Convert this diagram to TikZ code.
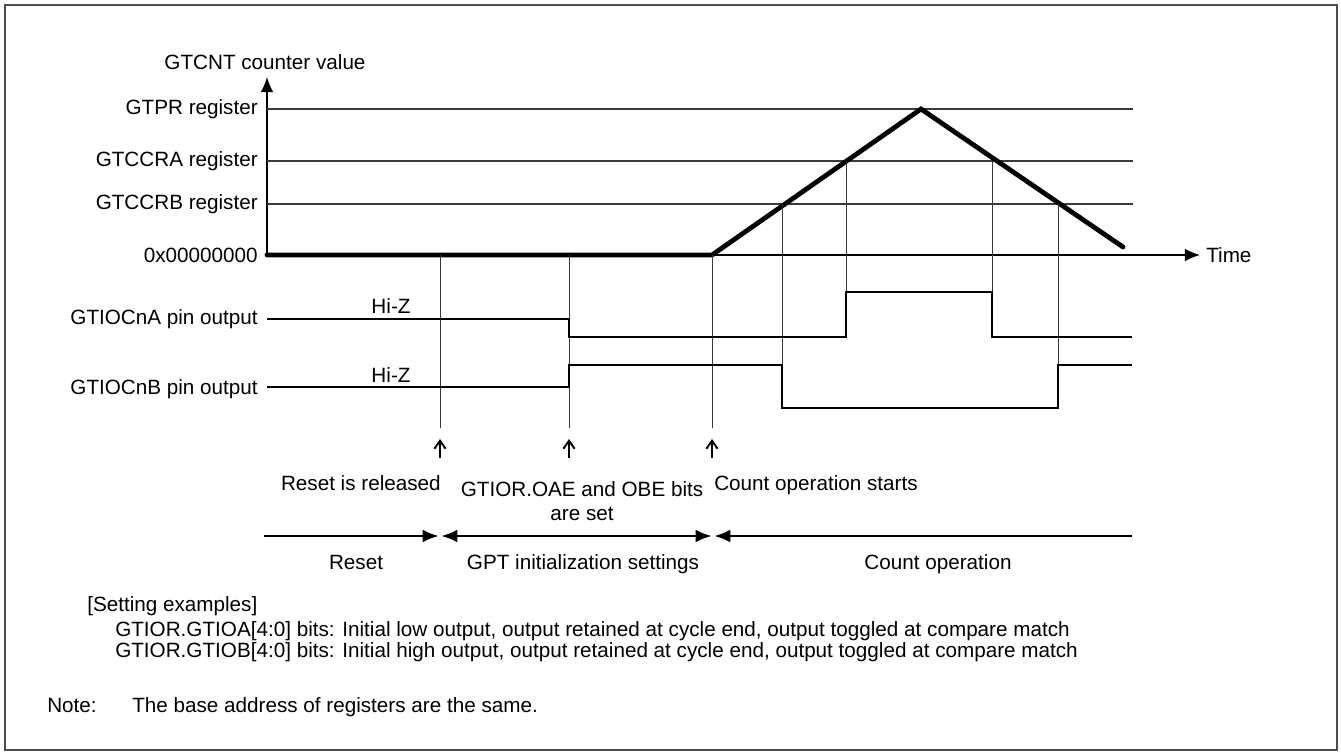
\documentclass[tikz,border=0pt]{standalone}
\usepackage{fontspec}
\setmainfont{Liberation Sans}
\usepackage{tikz}
\usetikzlibrary{arrows.meta}
\definecolor{rahmen}{HTML}{4D4D4D}
\definecolor{hgrau}{HTML}{3A3A3A}
\tikzset{
  ax/.style={-{Latex[length=3.8mm,width=3.2mm]},black,line width=1.0pt},
  reg/.style={hgrau,line width=0.85pt},
  hilf/.style={hgrau,line width=0.6pt},
  kurve/.style={black,line width=3.4pt,line cap=round},
  sig/.style={black,line width=2.0pt},
  zeiger/.style={-{Straight Barb[length=2.0mm,width=2.8mm]},black,line width=1.4pt},
  spanne/.style={black,line width=1.3pt},
  spitz/.tip={Latex[length=4.0mm,width=3.2mm]},
  txt/.style={inner sep=0pt},
}

\begin{document}
\begin{tikzpicture}[x=0.025cm,y=-0.025cm,font=\fontsize{14.7pt}{17.6pt}\selectfont]
  \useasboundingbox (0,0) rectangle (1341,755);
  \draw[rahmen,line width=1.4pt] (5,5) rectangle (1337,750);
  % ===== Achsen =====
  \coordinate (O) at (267,255);
  \coordinate (ytip) at (267,77);
  \coordinate (xtip) at (1200,255);
  \draw[ax] (O) -- (ytip);
  \draw[ax] (O) -- (xtip);
  \node[txt] (ylab) at (265,62) {GTCNT counter value};
  \node[txt,anchor=west] (tlab) at (1206,255) {Time};
  % ===== Registerwerte =====
  \foreach \y/\name/\lab in {109/pr/GTPR register,161/ccra/GTCCRA register,204/ccrb/GTCCRB register}{
    \draw[reg] (267,\y) coordinate (\name) -- (1133,\y);
    \node[txt,anchor=east] (lab\name) at (258,\y) {\lab};
  }
  \node[txt,anchor=east] (labnull) at (258,255) {0x00000000};
  % ===== Zaehlerverlauf =====
  \coordinate (start) at (712,255);
  \coordinate (spitze) at (921,109);
  \coordinate (ende) at (1123,247);
  \draw[kurve] (O) -- (start) -- (spitze) -- (ende);
  % ===== Hilfslinien =====
  \draw[hilf] (440,255) -- (440,428);
  \draw[hilf] (569,255) -- (569,428);
  \draw[hilf] (712,255) -- (712,428);
  \draw[hilf] (782,204) -- (782,408);
  \draw[hilf] (846,161) -- (846,292);
  \draw[hilf] (992,161) -- (992,292);
  \draw[hilf] (1058,204) -- (1058,408);
  % ===== Ausgaenge =====
  \node[txt,anchor=east] (laba) at (258,319) {GTIOCnA pin output};
  \node[txt,anchor=east] (labb) at (258,389) {GTIOCnB pin output};
  \draw[sig] (267,319) -- (569,319) -- (569,337) -- (846,337) -- (846,292)
    -- (992,292) -- (992,337) -- (1132,337);
  \draw[sig] (267,387) -- (569,387) -- (569,365) -- (782,365) -- (782,408)
    -- (1058,408) -- (1058,365) -- (1132,365);
  \node[txt] (hiza) at (391,306) {Hi-Z};
  \node[txt] (hizb) at (391,375) {Hi-Z};
  % ===== Ereignisse =====
  \foreach \x/\name in {440/reset,569/oae,712/count}{
    \coordinate (p\name) at (\x,439);
    \draw[zeiger] (\x,458) -- (p\name);
  }
  \node[txt,anchor=base east] (evreset) at (441,490) {Reset is released};
  \node[txt,align=center] (evoae) at (582,501) {GTIOR.OAE and OBE bits\\are set};
  \node[txt,anchor=base west] (evcount) at (714,490) {Count operation starts};
  % ===== Phasen =====
  \coordinate (t0) at (264,536);
  \coordinate (t1) at (440,536);
  \coordinate (t2) at (713,536);
  \coordinate (t3) at (1132,536);
  \draw[spanne,-spitz] (t0) -- ([xshift=-1]t1);
  \draw[spanne,spitz-spitz] ([xshift=1]t1) -- ([xshift=-1]t2);
  \draw[spanne,spitz-] ([xshift=1]t2) -- (t3);
  \node[txt,anchor=base] (phreset) at (356,569) {Reset};
  \node[txt,anchor=base] (phinit) at (583,569) {GPT initialization settings};
  \node[txt,anchor=base] (phcount) at (938,569) {Count operation};
  % ===== Einstellungen =====
  \node[txt,anchor=west] (setz) at (87,606) {[Setting examples]};
  \node[txt,anchor=west] (seta) at (115,631) {GTIOR.GTIOA[4:0] bits: Initial low output, output retained at cycle end, output toggled at compare match};
  \node[txt,anchor=west] (setb) at (115,652) {GTIOR.GTIOB[4:0] bits: Initial high output, output retained at cycle end, output toggled at compare match};
  \node[txt,anchor=base west] (note) at (47,712) {Note:};
  \node[txt,anchor=base west] (notetxt) at (132,712) {The base address of registers are the same.};
\end{tikzpicture}
\end{document}
